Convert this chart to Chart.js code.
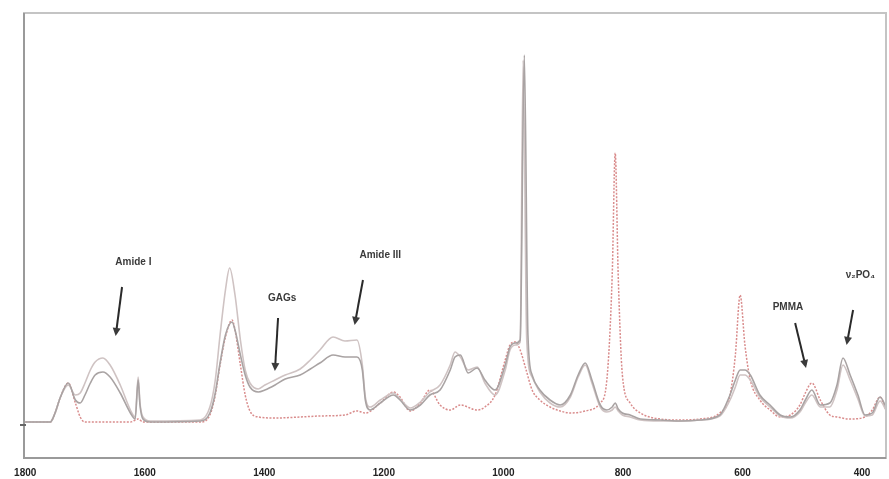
<!DOCTYPE html>
<html>
<head>
<meta charset="utf-8">
<script src="https://cdn.jsdelivr.net/npm/chart.js@4"></script>
<style>
  body { margin: 0; background: #fff; }
  #wrap { width: 889px; height: 479px; position: relative; }
</style>
</head>
<body>
<div id="wrap"><canvas id="myChart"></canvas></div>
<script>
// wavenumber (cm-1) tick labels along the bottom
let xTicks = [1800, 1600, 1400, 1200, 1000, 800, 600, 400];

// PMMA reference spectrum (red dotted)
let pmmaWn = [1800,1758,1750,1741,1728,1716,1708,1700,1624,1611,1603,1507,1491,1482,1474,1465,1454,1449,1440,1432,1424,1410,1382,1340,1307,1265,1245,1231,1206,1184,1173,1156,1139,1123,1106,1089,1072,1044,1031,1014,997,989,980,972,962,952,939,922,905,888,863,838,827,818,813,808,801,788,771,738,704,671,638,621,612,604,596,587,571,554,537,520,504,495,484,470,454,442,420,395,383,370,360];
let pmmaInt = [3,3,12,28,42,22,8,3,3,6,3,3,10,30,60,88,105,95,60,30,14,8,7,8,9,10,14,12,22,33,28,14,22,35,20,15,20,15,18,30,65,80,83,75,55,35,25,18,14,12,14,22,45,150,272,150,50,22,12,6,5,6,12,30,70,130,80,45,25,15,8,10,20,32,42,25,10,8,6,8,15,28,15];

// bone tissue spectrum, sample A (darker grey)
let boneAWn = [1800,1758,1750,1741,1728,1716,1708,1700,1691,1683,1670,1658,1641,1624,1616,1611,1608,1603,1591,1507,1491,1482,1474,1465,1454,1449,1440,1432,1424,1410,1399,1382,1365,1340,1323,1307,1285,1265,1245,1236,1231,1223,1206,1184,1173,1156,1139,1123,1106,1089,1081,1072,1059,1044,1031,1014,997,989,980,972,965,959,952,939,922,905,888,875,863,852,838,827,818,813,808,801,788,771,738,704,671,638,621,612,604,596,587,571,554,537,520,504,495,484,470,454,442,432,420,407,395,383,370,360];
let boneAInt = [3,3,12,28,42,25,22,30,42,50,53,48,32,12,6,45,20,6,3,4,12,32,62,90,103,95,70,50,38,33,35,40,46,50,56,62,70,68,68,55,25,15,22,30,25,15,20,30,35,55,68,70,52,57,45,35,60,78,82,85,370,90,50,35,25,20,30,50,62,45,20,15,18,22,16,12,10,6,5,4,5,10,30,45,55,55,50,30,20,10,8,15,25,35,20,22,40,67,50,30,10,12,28,18];

// bone tissue spectrum, sample B (lighter grey)
let boneBWn = [1800,1758,1750,1741,1728,1716,1708,1700,1691,1683,1670,1658,1641,1624,1616,1611,1608,1603,1591,1507,1491,1482,1474,1465,1458,1449,1440,1432,1424,1410,1399,1382,1365,1340,1323,1307,1285,1265,1245,1236,1231,1223,1206,1184,1173,1156,1139,1123,1106,1089,1081,1072,1059,1044,1031,1014,997,989,980,972,967,961,952,939,922,905,888,875,863,852,838,827,818,813,808,801,788,771,738,704,671,638,621,612,604,596,587,571,554,537,520,504,495,484,470,454,442,432,420,407,395,383,370,360];
let boneBInt = [3,3,12,28,40,30,32,42,55,63,67,60,40,15,8,48,22,8,4,5,18,45,90,135,157,130,85,55,42,36,40,45,50,56,65,75,88,84,85,60,28,18,25,32,26,17,23,33,40,60,73,68,55,58,42,30,55,75,80,83,365,85,48,33,22,18,28,48,60,42,18,13,15,18,14,10,8,5,4,4,5,9,25,38,50,50,45,28,18,9,7,13,22,30,18,18,35,60,45,26,9,10,24,15];

// peak labels with arrows (text position, arrow tail, arrow head) in wavenumber / intensity
let noteText = ["Amide I", "GAGs", "Amide III", "PMMA", "ν₂PO₄"];
let noteWn = [1619, 1370, 1206, 524, 403];
let noteInt = [163, 127, 170, 118, 150];
let arrowFromWn = [1638, 1377, 1235, 512, 415];
let arrowFromInt = [138, 107, 145, 102, 115];
let arrowToWn = [1648, 1382, 1248, 495, 425];
let arrowToInt = [92, 57, 103, 60, 83];

function pairs(wn, val) {
    return wn.map((w, i) => ({ x: w, y: val[i] }));
}

// frame round the plot, the little zero tick and the arrows with their labels
const notesPlugin = {
    id: 'notes',
    afterDatasetsDraw(chart) {
        const ctx = chart.ctx;
        const a = chart.chartArea;
        const xs = chart.scales.x;
        const ys = chart.scales.y;
        ctx.save();
        ctx.strokeStyle = '#c4c4c4';
        ctx.lineWidth = 2;
        ctx.strokeRect(a.left, a.top, a.right - a.left, a.bottom - a.top);
        ctx.strokeStyle = '#9a9a9a';
        ctx.beginPath();
        ctx.moveTo(a.left, a.top);
        ctx.lineTo(a.left, a.bottom);
        ctx.lineTo(a.right, a.bottom);
        ctx.stroke();
        ctx.strokeStyle = '#666';
        ctx.beginPath();
        ctx.moveTo(a.left - 4, ys.getPixelForValue(0));
        ctx.lineTo(a.left + 2, ys.getPixelForValue(0));
        ctx.stroke();

        ctx.fillStyle = '#3a3a3a';
        ctx.strokeStyle = '#2a2a2a';
        ctx.font = 'bold 10px "Liberation Sans", Arial, sans-serif';
        ctx.textAlign = 'center';
        ctx.textBaseline = 'middle';
        for (let i = 0; i < noteText.length; i++) {
            ctx.fillText(noteText[i], xs.getPixelForValue(noteWn[i]), ys.getPixelForValue(noteInt[i]));
            let x1 = xs.getPixelForValue(arrowFromWn[i]), y1 = ys.getPixelForValue(arrowFromInt[i]);
            let x2 = xs.getPixelForValue(arrowToWn[i]), y2 = ys.getPixelForValue(arrowToInt[i]);
            ctx.lineWidth = 2;
            ctx.beginPath();
            ctx.moveTo(x1, y1);
            ctx.lineTo(x2, y2);
            ctx.stroke();
            let ang = Math.atan2(y2 - y1, x2 - x1);
            ctx.beginPath();
            ctx.moveTo(x2 + 3 * Math.cos(ang), y2 + 3 * Math.sin(ang));
            ctx.lineTo(x2 - 5 * Math.cos(ang) + 4 * Math.sin(ang), y2 - 5 * Math.sin(ang) - 4 * Math.cos(ang));
            ctx.lineTo(x2 - 5 * Math.cos(ang) - 4 * Math.sin(ang), y2 - 5 * Math.sin(ang) + 4 * Math.cos(ang));
            ctx.closePath();
            ctx.fill();
        }
        ctx.restore();
    }
};

var ctx = document.getElementById('myChart').getContext('2d');
var chart = new Chart(ctx, {
    type: 'line',
    data: {
        datasets: [
            {
                label: 'Bone A',
                data: pairs(boneAWn, boneAInt),
                borderColor: '#a9a3a3',
                borderWidth: 1.6
            },
            {
                label: 'Bone B',
                data: pairs(boneBWn, boneBInt),
                borderColor: '#cfc3c3',
                borderWidth: 1.6
            },
            {
                label: 'PMMA',
                data: pairs(pmmaWn, pmmaInt),
                borderColor: '#d98c8c',
                borderWidth: 1.5,
                borderDash: [2, 1.5]
            }
        ]
    },
    options: {
        responsive: true,
        maintainAspectRatio: false,
        animation: false,
        layout: { padding: { left: 24, right: 3, top: 13, bottom: 0 } },
        elements: {
            point: { radius: 0 },
            line: { cubicInterpolationMode: 'monotone' }
        },
        plugins: { legend: { display: false }, tooltip: { enabled: false } },
        scales: {
            x: {
                type: 'linear',
                reverse: true,
                min: 360,
                max: 1802,
                grid: { display: false },
                border: { display: false },
                afterBuildTicks: (s) => { s.ticks = xTicks.map(v => ({ value: v })); },
                afterFit: (s) => { s.height = 21; },
                ticks: {
                    color: '#222',
                    padding: 1,
                    autoSkip: false,
                    maxRotation: 0,
                    callback: (v) => String(v),
                    font: { family: '"Liberation Sans", Arial, sans-serif', size: 10, weight: 'bold' }
                }
            },
            y: {
                display: false,
                min: -33,
                max: 412
            }
        }
    },
    plugins: [notesPlugin]
});
</script>
</body>
</html>
